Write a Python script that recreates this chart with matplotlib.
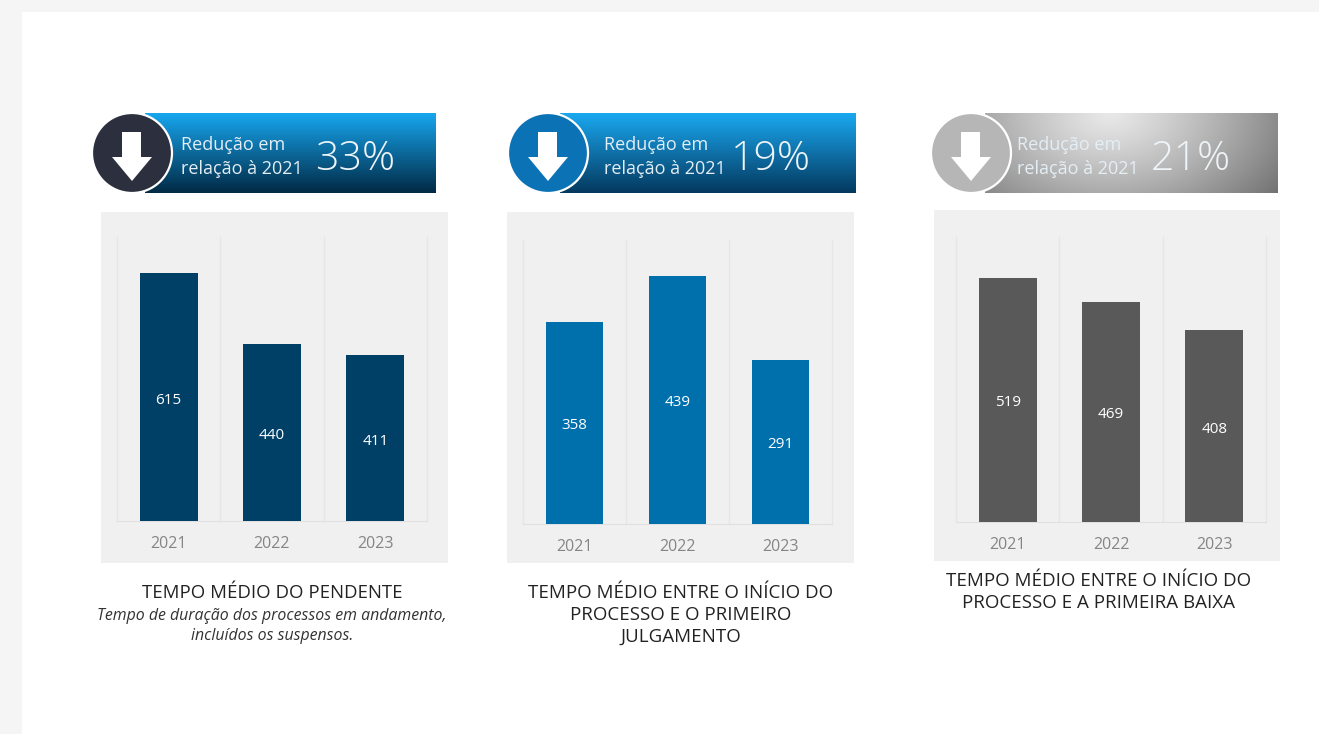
import numpy as np
import matplotlib
matplotlib.use('Agg')
from matplotlib import pyplot as plt
from matplotlib.patches import Circle, Polygon, Rectangle

plt.rcParams['font.family'] = ['Open Sans', 'DejaVu Sans']

W, H = 1319, 734

years = ['2021', '2022', '2023']
vals1 = [615, 440, 411]
vals2 = [358, 439, 291]
vals3 = [519, 469, 408]
percents = ['33%', '19%', '21%']
banner_text = 'Redução em\nrelação à 2021'
title1 = 'TEMPO MÉDIO DO PENDENTE'
note1 = 'Tempo de duração dos processos em andamento,\nincluídos os suspensos.'
title2 = 'TEMPO MÉDIO ENTRE O INÍCIO DO\nPROCESSO E O PRIMEIRO\nJULGAMENTO'
title3 = 'TEMPO MÉDIO ENTRE O INÍCIO DO\nPROCESSO E A PRIMEIRA BAIXA'

fig = plt.figure(figsize=(W / 100, H / 100), dpi=100, facecolor='#f5f5f5')

# pixel layer for the backgrounds and banners
bg = fig.add_axes([0, 0, 1, 1])
bg.set_xlim(0, W)
bg.set_ylim(H, 0)
bg.axis('off')
bg.add_patch(Rectangle((22, 12), W - 22, H - 12, fc='white', ec='none'))


def vgrad(top, bottom):
    top = np.array(matplotlib.colors.to_rgb(top))
    bottom = np.array(matplotlib.colors.to_rgb(bottom))
    t = np.linspace(0, 1, 80)[:, None, None]
    return top * (1 - t) + bottom * t


def gray_grad():
    # light spot at the top middle, darker towards the edges
    x, y = np.meshgrid(np.linspace(-1, 1, 200), np.linspace(0, 1, 80))
    d = np.sqrt(((x + 0.15) * 0.85) ** 2 + (y * 0.7) ** 2)
    g = 0.91 - 0.37 * d ** 1.2
    return np.dstack([g, g, g])


def banner(x0, x1, cx, img, circ, pct, tx, px):
    bg.imshow(img, extent=(x0, x1, 193, 113), aspect='auto', zorder=2, interpolation='bilinear')
    bg.add_patch(Circle((cx, 153), 40, fc=circ, ec='white', lw=1.6, zorder=3))
    bg.add_patch(Polygon([(cx - 10, 132), (cx + 9, 132), (cx + 9, 157), (cx + 20, 157),
                          (cx, 181), (cx - 20, 157), (cx - 10, 157)], fc='white', ec='none', zorder=4))
    bg.text(tx, 157, banner_text, color='#e4eef5', fontsize=13, va='center', linespacing=1.42, zorder=5)
    bg.text(px, 160, pct, color='#eef4f8', fontsize=29.5, va='center', fontweight='light', zorder=5)


banner(145, 436, 132, vgrad('#17a6ef', '#012a45'), '#2c2f3e', percents[0], 181, 315)
banner(560, 856, 548, vgrad('#1aa8f0', '#04395f'), '#0b72b5', percents[1], 604, 731)
banner(985, 1278, 971, gray_grad(), '#b6b6b6', percents[2], 1017, 1151)
bg.set_xlim(0, W)
bg.set_ylim(H, 0)


def panel(card, plot, vals, scale, color):
    bg.add_patch(Rectangle((card[0], card[1]), card[2] - card[0], card[3] - card[1],
                           fc='#f0f0f0', ec='none', zorder=1))
    ax = fig.add_axes([plot[0] / W, 1 - plot[3] / H, (plot[2] - plot[0]) / W, (plot[3] - plot[1]) / H])
    ax.patch.set_alpha(0)
    ax.bar(range(3), vals, width=0.56, color=color, zorder=3)
    ax.set_xlim(-0.5, 2.5)
    ax.set_ylim(0, (plot[3] - plot[1]) * scale)
    ax.set_xticks(range(3))
    ax.set_xticklabels(years, color='#858585', fontsize=11.5)
    ax.tick_params(axis='x', length=0, pad=11)
    ax.set_yticks([])
    for s in ['top', 'left', 'right']:
        ax.spines[s].set_visible(False)
    ax.spines['bottom'].set_color('#e0e0e0')
    for x in [-0.5, 0.5, 1.5, 2.5]:
        ax.axvline(x, color='#e6e6e6', lw=1, zorder=1, clip_on=False)
    for i, v in enumerate(vals):
        ax.annotate(str(v), (i, v / 2), xytext=(0, -3), textcoords='offset pixels', color='white',
                    fontsize=11, ha='center', va='center', zorder=4)
    return ax


panel((101, 212, 448, 563), (117, 237, 427, 521), vals1, 2.48, '#003f66')
panel((507, 212, 854, 563), (523, 240, 832, 524), vals2, 1.77, '#0070ad')
panel((934, 210, 1280, 561), (956, 237, 1266, 522), vals3, 2.127, '#595959')

bg.text(272, 593, title1, color='#222222', fontsize=13.4, ha='center', va='center')
bg.text(272, 626, note1, color='#333333', fontsize=11.4, ha='center', va='center', style='italic', linespacing=1.25)
bg.text(681, 615, title2, color='#222222', fontsize=13.5, ha='center', va='center', linespacing=1.28)
bg.text(1099, 592, title3, color='#222222', fontsize=13.5, ha='center', va='center', linespacing=1.28)

fig.savefig('out.png', dpi=100)
